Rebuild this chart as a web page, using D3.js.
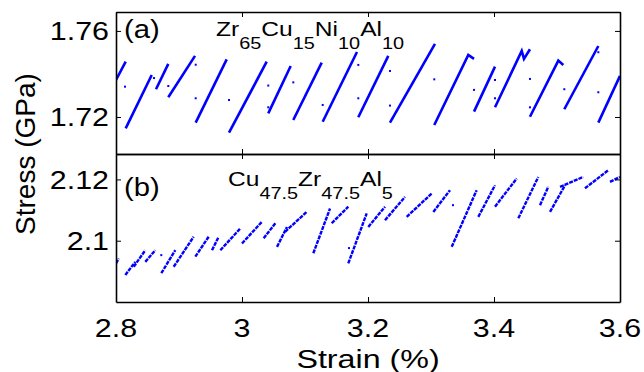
<!DOCTYPE html>
<html>
<head>
<meta charset="utf-8">
<script src="https://cdn.jsdelivr.net/npm/d3@7"></script>
<style>
  body { margin: 0; background: #fff; }
  svg text { font-family: "Liberation Sans", Arimo, Roboto, sans-serif; }
</style>
</head>
<body>
<svg id="drawing_region"></svg>
<script>
// strain (%) ticks and stress ticks
const xTicks = [2.8, 3, 3.2, 3.4, 3.6];
const yTicksA = [1.72, 1.76];
const yTicksB = [2.1, 2.12];

// panel (a) Zr65Cu15Ni10Al10 : loading segments, [strain, stress]
const segmentsA = [
    [[2.8000, 1.7372], [2.8154, 1.7457]],
    [[2.8154, 1.7147], [2.8567, 1.7395]],
    [[2.8635, 1.7329], [2.8830, 1.7447]],
    [[2.8830, 1.7292], [2.9254, 1.7484]],
    [[2.9265, 1.7174], [2.9757, 1.7468]],
    [[2.9794, 1.7127], [3.0392, 1.7457]],
    [[3.0417, 1.7217], [3.0773, 1.7437]],
    [[3.0814, 1.7186], [3.1265, 1.7453]],
    [[3.1281, 1.7178], [3.1825, 1.7502]],
    [[3.1846, 1.7199], [3.2322, 1.7484]],
    [[3.2349, 1.7174], [3.3063, 1.7540]],
    [[3.3052, 1.7163], [3.3592, 1.7488], [3.3683, 1.7470]],
    [[3.3683, 1.7225], [3.4016, 1.7434]],
    [[3.4016, 1.7245], [3.4440, 1.7507], [3.4476, 1.7470], [3.4571, 1.7515]],
    [[3.4571, 1.7201], [3.5021, 1.7462], [3.5100, 1.7442]],
    [[3.5116, 1.7236], [3.5656, 1.7530]],
    [[3.5656, 1.7174], [3.6000, 1.7391]]
];
const dotsA = [
    [2.8143, 1.7341], [2.8603, 1.7381], [2.8830, 1.7344], [2.9265, 1.7443],
    [2.9265, 1.7287], [2.9794, 1.7279], [3.0417, 1.7346], [3.0417, 1.7245],
    [3.0814, 1.7361], [3.1281, 1.7256], [3.1846, 1.7442], [3.1846, 1.7287],
    [3.2349, 1.7414], [3.2349, 1.7253], [3.3052, 1.7375], [3.3683, 1.7326],
    [3.4016, 1.7372], [3.4016, 1.7287], [3.4571, 1.7377], [3.4571, 1.7245],
    [3.5116, 1.7329], [3.5656, 1.7501], [3.5656, 1.7315]
];

// panel (b) Cu47.5Zr47.5Al5
const segmentsB = [
    [[2.8000, 2.0926], [2.8043, 2.0942]],
    [[2.8148, 2.0888], [2.8306, 2.0931]],
    [[2.8281, 2.0915], [2.8465, 2.0969]],
    [[2.8465, 2.0931], [2.8624, 2.0969]],
    [[2.8719, 2.0894], [2.8941, 2.0969]],
    [[2.8916, 2.0915], [2.9233, 2.1013]],
    [[2.9259, 2.0948], [2.9471, 2.1013]],
    [[2.9524, 2.0969], [2.9630, 2.1013]],
    [[2.9656, 2.0969], [2.9973, 2.1040]],
    [[3.0000, 2.0991], [3.0317, 2.1062]],
    [[3.0344, 2.1008], [3.0529, 2.1057]],
    [[3.0556, 2.0980], [3.0714, 2.1045]],
    [[3.0683, 2.1029], [3.1027, 2.1094]],
    [[3.1132, 2.0959], [3.1397, 2.1105]],
    [[3.1424, 2.1057], [3.1687, 2.1111]],
    [[3.1687, 2.0926], [3.1979, 2.1089]],
    [[3.2005, 2.1045], [3.2270, 2.1111]],
    [[3.2270, 2.1067], [3.2587, 2.1143]],
    [[3.2614, 2.1078], [3.3011, 2.1154]],
    [[3.3037, 2.1094], [3.3302, 2.1165]],
    [[3.3329, 2.0980], [3.3725, 2.1165]],
    [[3.3751, 2.1078], [3.4016, 2.1181]],
    [[3.4016, 2.1111], [3.4360, 2.1203]],
    [[3.4386, 2.1073], [3.4703, 2.1208]],
    [[3.4730, 2.1116], [3.4862, 2.1176]],
    [[3.4889, 2.1094], [3.5127, 2.1181]],
    [[3.5048, 2.1176], [3.5417, 2.1208]],
    [[3.5444, 2.1171], [3.5814, 2.1230]],
    [[3.5841, 2.1192], [3.6000, 2.1208]]
];
const dotsB = [
    [2.8719, 2.0953], [3.1698, 2.0976], [3.3349, 2.1116]
];

const config = {
    parent: '#drawing_region',
    width: 644,
    height: 372,
    left: 116,
    right: 620,
    panels: [
        { top: 12, bottom: 154, domain: [1.7028, 1.7688], ticks: yTicksA,
          segments: segmentsA, dots: dotsA, tag: '(a)',
          formula: [['Zr', 0], ['65', 1], ['Cu', 0], ['15', 1], ['Ni', 0], ['10', 1], ['Al', 0], ['10', 1]],
          tagPos: [124, 38], formulaPos: [216, 36], width: 2.6, dash: null },
        { top: 154, bottom: 302, domain: [2.08, 2.1283], ticks: yTicksB,
          segments: segmentsB, dots: dotsB, tag: '(b)',
          formula: [['Cu', 0], ['47.5', 1], ['Zr', 0], ['47.5', 1], ['Al', 0], ['5', 1]],
          tagPos: [124, 196], formulaPos: [228, 186], width: 2.4, dash: '4,1' }
    ]
};

const stretch = 1.17;

const svg = d3.select(config.parent)
    .attr('width', config.width)
    .attr('height', config.height);

const xscale = d3.scaleLinear()
    .domain([2.8, 3.6])
    .range([config.left, config.right]);

config.panels.forEach((p, i) => {
    const yscale = d3.scaleLinear()
        .domain(p.domain)
        .range([p.bottom, p.top]);

    svg.append('clipPath').attr('id', 'clip' + i)
        .append('rect')
        .attr('x', config.left).attr('y', p.top)
        .attr('width', config.right - config.left)
        .attr('height', p.bottom - p.top);

    const plot = svg.append('g').attr('clip-path', `url(#clip${i})`);

    const line = d3.line()
        .x(d => xscale(d[0]))
        .y(d => yscale(d[1]));

    plot.selectAll('path.seg')
        .data(p.segments)
        .enter()
        .append('path')
        .attr('class', 'seg')
        .attr('d', line)
        .attr('fill', 'none')
        .attr('stroke', '#0000ff')
        .attr('stroke-width', p.width)
        .attr('stroke-dasharray', p.dash);

    plot.selectAll('rect.dot')
        .data(p.dots)
        .enter()
        .append('rect')
        .attr('class', 'dot')
        .attr('x', d => xscale(d[0]) - 1)
        .attr('y', d => yscale(d[1]) - 1)
        .attr('width', 2)
        .attr('height', 2)
        .attr('fill', '#0000ff');

    // box with inward ticks on all four sides
    const axes = [
        { ax: d3.axisLeft(yscale).tickValues(p.ticks), tr: `translate(${config.left},0)` },
        { ax: d3.axisRight(yscale).tickValues(p.ticks), tr: `translate(${config.right},0)` },
        { ax: d3.axisTop(xscale).tickValues(xTicks), tr: `translate(0,${p.top})` },
        { ax: d3.axisBottom(xscale).tickValues(xTicks), tr: `translate(0,${p.bottom})` }
    ];
    axes.forEach(a => {
        const g = svg.append('g')
            .attr('transform', a.tr)
            .call(a.ax.tickSizeInner(-5).tickSizeOuter(0));
        g.select('.domain').attr('stroke', '#000').attr('stroke-width', 1.6);
        g.selectAll('.tick line').attr('stroke', '#000').attr('stroke-width', 1);
        g.selectAll('.tick text').remove();
    });

    // y tick labels
    svg.selectAll(null)
        .data(p.ticks)
        .enter()
        .append('text')
        .attr('transform', d => `translate(109,${yscale(d)}) scale(${stretch},1)`)
        .attr('dy', '0.36em')
        .attr('text-anchor', 'end')
        .style('font-size', '26px')
        .text(d => d3.format('.2~f')(d));

    svg.append('text')
        .attr('transform', `translate(${p.tagPos[0]},${p.tagPos[1]}) scale(${stretch},1)`)
        .style('font-size', '25px')
        .text(p.tag);

    const f = svg.append('text')
        .attr('transform', `translate(${p.formulaPos[0]},${p.formulaPos[1]}) scale(${stretch},1)`)
        .style('font-size', '21px');
    let prev = 0;
    p.formula.forEach(part => {
        f.append('tspan')
            .attr('dy', (part[1] - prev) * 13)
            .style('font-size', part[1] ? '17px' : '21px')
            .text(part[0]);
        prev = part[1];
    });
});

// x tick labels under the lower panel
svg.selectAll(null)
    .data(xTicks)
    .enter()
    .append('text')
    .attr('transform', d => `translate(${xscale(d)},337) scale(${stretch},1)`)
    .attr('text-anchor', 'middle')
    .style('font-size', '26px')
    .text(d => d3.format('~g')(d));

svg.append('text')
    .attr('transform', `translate(${(config.left + config.right) / 2},368) scale(1.24,1)`)
    .attr('text-anchor', 'middle')
    .style('font-size', '26px')
    .text('Strain (%)');

svg.append('text')
    .attr('transform', 'translate(35,154) rotate(-90)')
    .attr('text-anchor', 'middle')
    .style('font-size', '28px')
    .text('Stress (GPa)');
</script>
</body>
</html>
